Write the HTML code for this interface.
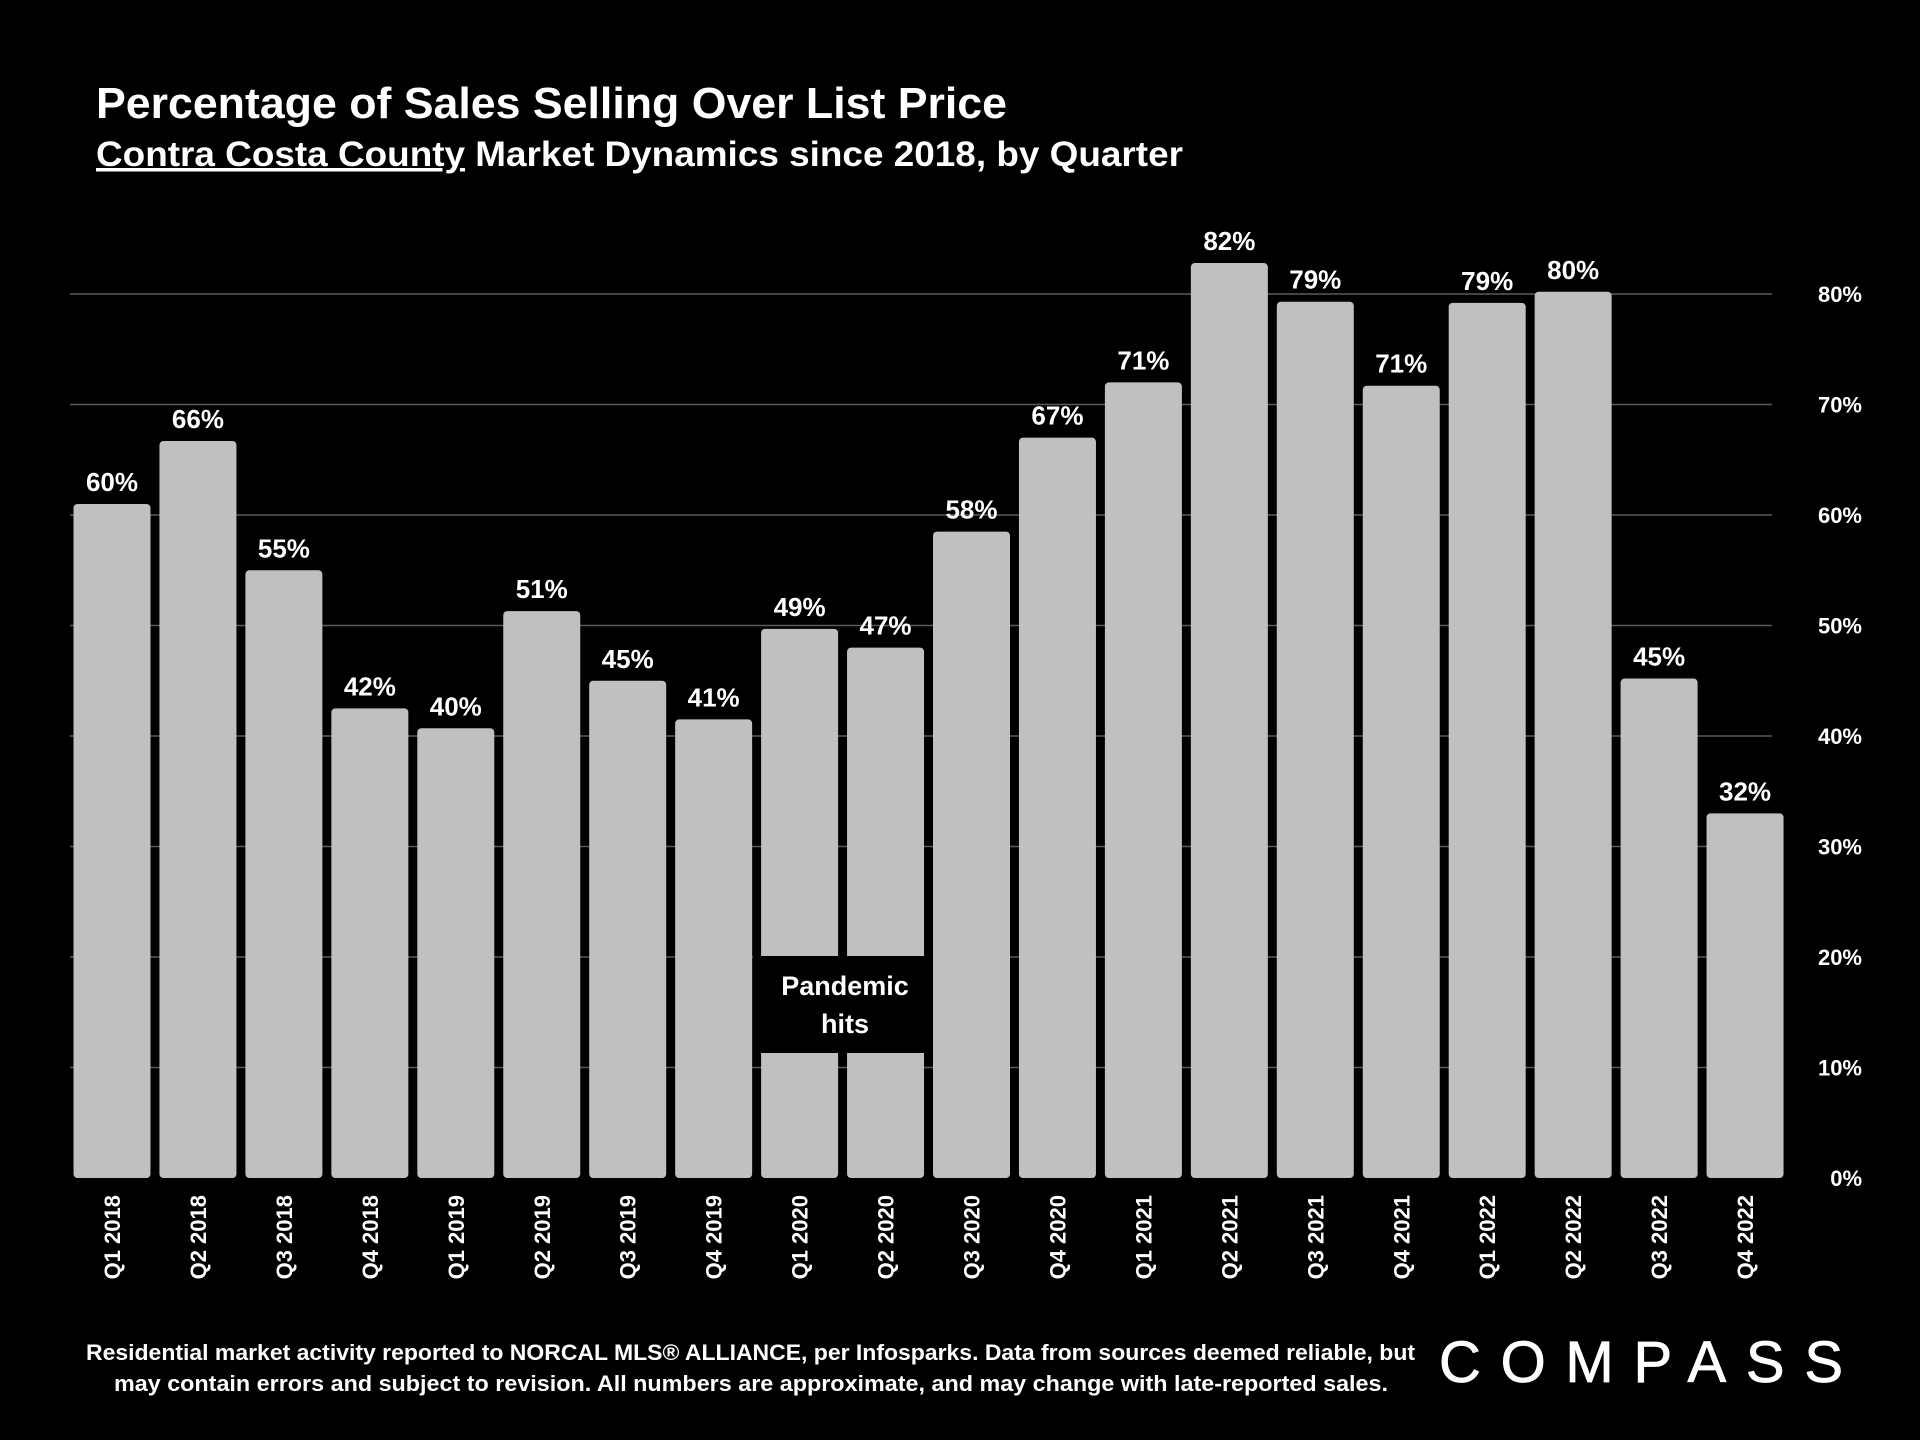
<!DOCTYPE html>
<html><head><meta charset="utf-8"><style>
html,body{margin:0;padding:0;background:#000;}
svg{display:block;font-family:"Liberation Sans",sans-serif;}
</style></head><body>
<svg id="chart" width="1920" height="1440" viewBox="0 0 1920 1440">
<rect width="1920" height="1440" fill="#000"/>
<text x="96" y="118" fill="#fff" font-size="44" font-weight="bold" textLength="911" lengthAdjust="spacingAndGlyphs">Percentage of Sales Selling Over List Price</text>
<text x="96" y="166" fill="#fff" font-size="35" font-weight="bold" textLength="1087" lengthAdjust="spacingAndGlyphs"><tspan text-decoration="underline">Contra Costa County</tspan> Market Dynamics since 2018, by Quarter</text>
<g id="grid"></g><g id="bars"></g><g id="labels"></g>
<rect x="753" y="956" width="180" height="97" fill="#000"/>
<text x="845" y="995" fill="#fff" font-size="27" font-weight="bold" text-anchor="middle"><tspan x="845">Pandemic</tspan><tspan x="845" dy="38">hits</tspan></text>
<text fill="#fff" font-size="22" font-weight="bold"><tspan x="86" y="1360" textLength="1329" lengthAdjust="spacingAndGlyphs">Residential market activity reported to NORCAL MLS® ALLIANCE, per Infosparks. Data from sources deemed reliable, but</tspan><tspan x="114" y="1391" textLength="1274" lengthAdjust="spacingAndGlyphs">may contain errors and subject to revision. All numbers are approximate, and may change with late-reported sales.</tspan></text>
<text x="1439" y="1382" fill="#fff" stroke="#fff" stroke-width="0.8" font-size="58" textLength="404" lengthAdjust="spacing">COMPASS</text>
</svg>
<script>
const categories=["Q1 2018","Q2 2018","Q3 2018","Q4 2018","Q1 2019","Q2 2019","Q3 2019","Q4 2019","Q1 2020","Q2 2020","Q3 2020","Q4 2020","Q1 2021","Q2 2021","Q3 2021","Q4 2021","Q1 2022","Q2 2022","Q3 2022","Q4 2022"];
const values=[61,66.7,55,42.5,40.7,51.3,45,41.5,49.7,48,58.5,67,72,82.8,79.3,71.7,79.2,80.2,45.2,33];
const valueLabels=["60%","66%","55%","42%","40%","51%","45%","41%","49%","47%","58%","67%","71%","82%","79%","71%","79%","80%","45%","32%"];
const ticks=[0,10,20,30,40,50,60,70,80];
const NS="http://www.w3.org/2000/svg";
const y0=1178, per=11.05, x0=73.5, pitch=85.95, bw=77;
const y=v=>y0-v*per;
const xc=i=>x0+i*pitch+bw/2;
const grid=document.getElementById('grid'),bars=document.getElementById('bars'),labels=document.getElementById('labels');
function mk(t,a,p){const e=document.createElementNS(NS,t);for(const k in a)e.setAttribute(k,a[k]);p.appendChild(e);return e;}
ticks.forEach(t=>{
 if(t>0){const l=mk('line',{x1:70,x2:1772,y1:y(t),y2:y(t),stroke:'#5a5a5a','stroke-width':1.5},grid);
 
 }
 const tx=mk('text',{x:1862,y:y(t)+8,fill:'#fff','font-size':22,'font-weight':'bold','text-anchor':'end'},labels);
 tx.textContent=t+'%';
 
 
});
categories.forEach((c,i)=>{
 const b=mk('rect',{x:x0+i*pitch,y:y(values[i]),width:bw,height:y0-y(values[i]),rx:4,fill:'#c0c0c0'},bars);
 
 
 const v=mk('text',{x:xc(i),y:y(values[i])-13,fill:'#fff','font-size':26,'font-weight':'bold','text-anchor':'middle'},labels);
 v.textContent=valueLabels[i];
 
 
 const t=mk('text',{transform:`translate(${xc(i)+8},1195) rotate(-90)`,fill:'#fff','font-size':22,'font-weight':'bold','text-anchor':'end'},labels);
 t.textContent=c;
 
 
});
</script>
</body></html>
